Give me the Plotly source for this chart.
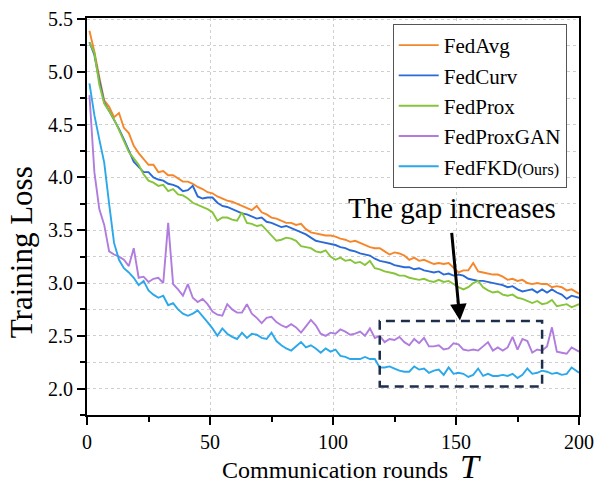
import plotly.graph_objects as go

rounds = [*range(1, 199, 2), 200]

fedavg = [5.39, 5.19, 4.95, 4.73, 4.67, 4.57, 4.61, 4.47, 4.42, 4.30,
          4.23, 4.18, 4.12, 4.12, 4.05, 4.06, 4.02, 4.02, 3.99, 3.96,
          3.96, 3.94, 3.91, 3.89, 3.86, 3.85, 3.82, 3.80, 3.78, 3.77,
          3.75, 3.73, 3.71, 3.69, 3.73, 3.67, 3.65, 3.62, 3.61, 3.59,
          3.57, 3.57, 3.55, 3.56, 3.51, 3.48, 3.47, 3.46, 3.45, 3.45,
          3.44, 3.42, 3.41, 3.39, 3.40, 3.38, 3.36, 3.34, 3.33, 3.33,
          3.30, 3.27, 3.29, 3.28, 3.26, 3.22, 3.24, 3.21, 3.22, 3.20,
          3.18, 3.19, 3.18, 3.19, 3.14, 3.10, 3.12, 3.12, 3.19, 3.11,
          3.10, 3.09, 3.08, 3.08, 3.06, 3.03, 3.04, 3.02, 3.03, 3.00,
          2.99, 3.00, 2.99, 2.99, 2.96, 2.97, 2.96, 2.93, 2.94, 2.90]

fedcurv = [5.28, 5.16, 4.92, 4.71, 4.63, 4.55, 4.46, 4.36, 4.26, 4.15,
           4.10, 4.05, 4.05, 4.00, 3.98, 3.97, 3.94, 3.93, 3.91, 3.87,
           3.88, 3.92, 3.82, 3.80, 3.81, 3.81, 3.76, 3.73, 3.72, 3.70,
           3.68, 3.66, 3.65, 3.63, 3.61, 3.62, 3.58, 3.57, 3.55, 3.53,
           3.54, 3.52, 3.50, 3.48, 3.46, 3.43, 3.40, 3.39, 3.38, 3.37,
           3.36, 3.34, 3.33, 3.31, 3.30, 3.28, 3.27, 3.26, 3.23, 3.21,
           3.20, 3.19, 3.17, 3.16, 3.15, 3.15, 3.13, 3.14, 3.12, 3.11,
           3.10, 3.11, 3.08, 3.09, 3.07, 3.08, 3.07, 3.04, 3.03, 3.02,
           3.02, 3.01, 3.00, 2.99, 2.98, 2.96, 2.97, 2.94, 2.92, 2.93,
           2.94, 2.91, 2.94, 2.91, 2.94, 2.91, 2.89, 2.85, 2.88, 2.86]

fedprox = [5.28, 5.18, 4.88, 4.70, 4.63, 4.55, 4.45, 4.35, 4.24, 4.18,
           4.12, 4.03, 3.97, 3.95, 3.92, 3.93, 3.87, 3.89, 3.84, 3.83,
           3.80, 3.76, 3.74, 3.72, 3.70, 3.67, 3.59, 3.62, 3.62, 3.60,
           3.59, 3.67, 3.57, 3.56, 3.54, 3.55, 3.50, 3.45, 3.40, 3.41,
           3.43, 3.42, 3.40, 3.35, 3.34, 3.33, 3.30, 3.29, 3.31, 3.25,
           3.22, 3.24, 3.21, 3.22, 3.19, 3.20, 3.17, 3.21, 3.14, 3.13,
           3.11, 3.10, 3.09, 3.07, 3.07, 3.05, 3.04, 3.03, 3.04, 3.02,
           3.01, 3.03, 3.01, 3.02, 2.99, 2.96, 2.94, 2.96, 3.00, 3.02,
           2.96, 2.93, 2.91, 2.92, 2.89, 2.88, 2.89, 2.86, 2.85, 2.83,
           2.81, 2.83, 2.80, 2.81, 2.84, 2.78, 2.79, 2.80, 2.77, 2.80]

fedproxgan = [4.78, 4.05, 3.70, 3.55, 3.30, 3.27, 3.25, 3.22, 3.16, 3.33,
              3.05, 3.06, 3.01, 3.04, 3.05, 3.00, 3.57, 2.99, 2.94, 2.88,
              2.99, 2.86, 2.82, 2.85, 2.80, 2.73, 2.70, 2.69, 2.80, 2.75,
              2.72, 2.72, 2.80, 2.71, 2.67, 2.62, 2.67, 2.68, 2.63, 2.60,
              2.58, 2.61, 2.58, 2.53, 2.59, 2.65, 2.60, 2.52, 2.50, 2.53,
              2.52, 2.56, 2.54, 2.51, 2.52, 2.54, 2.50, 2.57, 2.48, 2.50,
              2.44, 2.47, 2.46, 2.49, 2.44, 2.41, 2.47, 2.43, 2.48, 2.40,
              2.40, 2.41, 2.37, 2.38, 2.43, 2.42, 2.37, 2.36, 2.37, 2.36,
              2.40, 2.44, 2.36, 2.39, 2.36, 2.39, 2.49, 2.37, 2.47, 2.45,
              2.34, 2.37, 2.36, 2.40, 2.58, 2.35, 2.34, 2.33, 2.39, 2.35]

fedfkd = [4.89, 4.59, 4.36, 4.14, 3.75, 3.38, 3.22, 3.14, 3.10, 3.05,
          2.98, 3.02, 2.93, 2.89, 2.86, 2.88, 2.79, 2.81, 2.75, 2.71,
          2.69, 2.71, 2.74, 2.69, 2.63, 2.57, 2.50, 2.57, 2.52, 2.49,
          2.47, 2.53, 2.48, 2.52, 2.51, 2.48, 2.47, 2.53, 2.45, 2.41,
          2.38, 2.36, 2.40, 2.44, 2.39, 2.41, 2.38, 2.34, 2.38, 2.35,
          2.37, 2.31, 2.30, 2.28, 2.28, 2.28, 2.30, 2.28, 2.28, 2.20,
          2.20, 2.21, 2.19, 2.17, 2.16, 2.16, 2.21, 2.18, 2.19, 2.15,
          2.17, 2.18, 2.13, 2.20, 2.14, 2.15, 2.14, 2.11, 2.13, 2.19,
          2.12, 2.14, 2.12, 2.12, 2.13, 2.12, 2.14, 2.10, 2.13, 2.19,
          2.14, 2.15, 2.17, 2.16, 2.14, 2.15, 2.13, 2.14, 2.20, 2.15]

series_names = ["FedAvg", "FedCurv", "FedProx", "FedProxGAN",
                "FedFKD<span style='font-size:16px'>(Ours)</span>"]
series_values = [fedavg, fedcurv, fedprox, fedproxgan, fedfkd]
colors = ["#F5862A", "#2A6AD6", "#86C43A", "#B07CDE", "#2AA8EA"]

x_ticks = [0, 50, 100, 150, 200]
y_ticks = [2.0, 2.5, 3.0, 3.5, 4.0, 4.5, 5.0, 5.5]

FONT = "Liberation Serif"

fig = go.Figure()
for name, vals, col in zip(series_names, series_values, colors):
    fig.add_trace(go.Scatter(x=rounds, y=vals, mode="lines", name=name,
                             line=dict(color=col, width=1.9)))

# dashed box highlighting the gap
fig.add_shape(type="rect", xref="x", yref="y", x0=119, x1=185, y0=2.02, y1=2.64,
              line=dict(color="#1C2E4A", width=2.5, dash="9px,6px"),
              fillcolor="rgba(0,0,0,0)")

# arrow
fig.add_annotation(x=151.6, y=2.645, ax=148.2, ay=3.49, xref="x", yref="y",
                   axref="x", ayref="y", showarrow=True, arrowhead=2,
                   arrowsize=1.1, arrowwidth=3, arrowcolor="black", text="")
fig.add_annotation(x=148.3, y=3.71, xref="x", yref="y", showarrow=False,
                   text="The gap increases",
                   font=dict(family=FONT, size=29, color="black"))

# axis titles
fig.add_annotation(xref="paper", yref="paper", x=0.537, y=0, yanchor="top",
                   yshift=-31, showarrow=False,
                   text="Communication rounds  <i><span style='font-size:34px'>T</span></i>",
                   font=dict(family=FONT, size=24, color="black"))
fig.add_annotation(xref="paper", yref="paper", x=0, y=0.41, xanchor="center",
                   xshift=-66, showarrow=False, textangle=-90,
                   text="Training Loss",
                   font=dict(family=FONT, size=31, color="black"))

axis_common = dict(showline=True, linecolor="black", linewidth=2, mirror=True,
                   ticks="outside", tickcolor="black", tickwidth=1.5, ticklen=8,
                   tickfont=dict(family=FONT, size=20, color="black"),
                   gridcolor="#CFCFCF", griddash="dot", gridwidth=1,
                   zeroline=False)

fig.update_xaxes(range=[0, 200], tickvals=x_ticks, **axis_common,
                 minor=dict(dtick=25, ticks="outside", ticklen=5, tickcolor="black",
                            showgrid=False))
fig.update_yaxes(range=[1.75, 5.51], tickvals=y_ticks, tickformat=".1f", **axis_common,
                 minor=dict(dtick=0.25, tick0=0, ticks="outside", ticklen=5,
                            tickcolor="black", showgrid=True, gridcolor="#CFCFCF",
                            griddash="dot"))

fig.update_layout(
    width=596, height=490,
    margin=dict(l=87, r=17, t=18, b=75, autoexpand=False),
    paper_bgcolor="white", plot_bgcolor="white",
    font=dict(family=FONT, color="black"),
    legend=dict(x=0.975, y=0.985, xanchor="right", yanchor="top",
                bgcolor="white", bordercolor="#555555", borderwidth=1,
                font=dict(family=FONT, size=21, color="black"),
                tracegroupgap=0, itemwidth=40),
    showlegend=True,
)

fig.write_html("out.html", config={"displayModeBar": False},
               post_script="document.body.style.margin='0px';document.body.style.overflow='hidden';")
